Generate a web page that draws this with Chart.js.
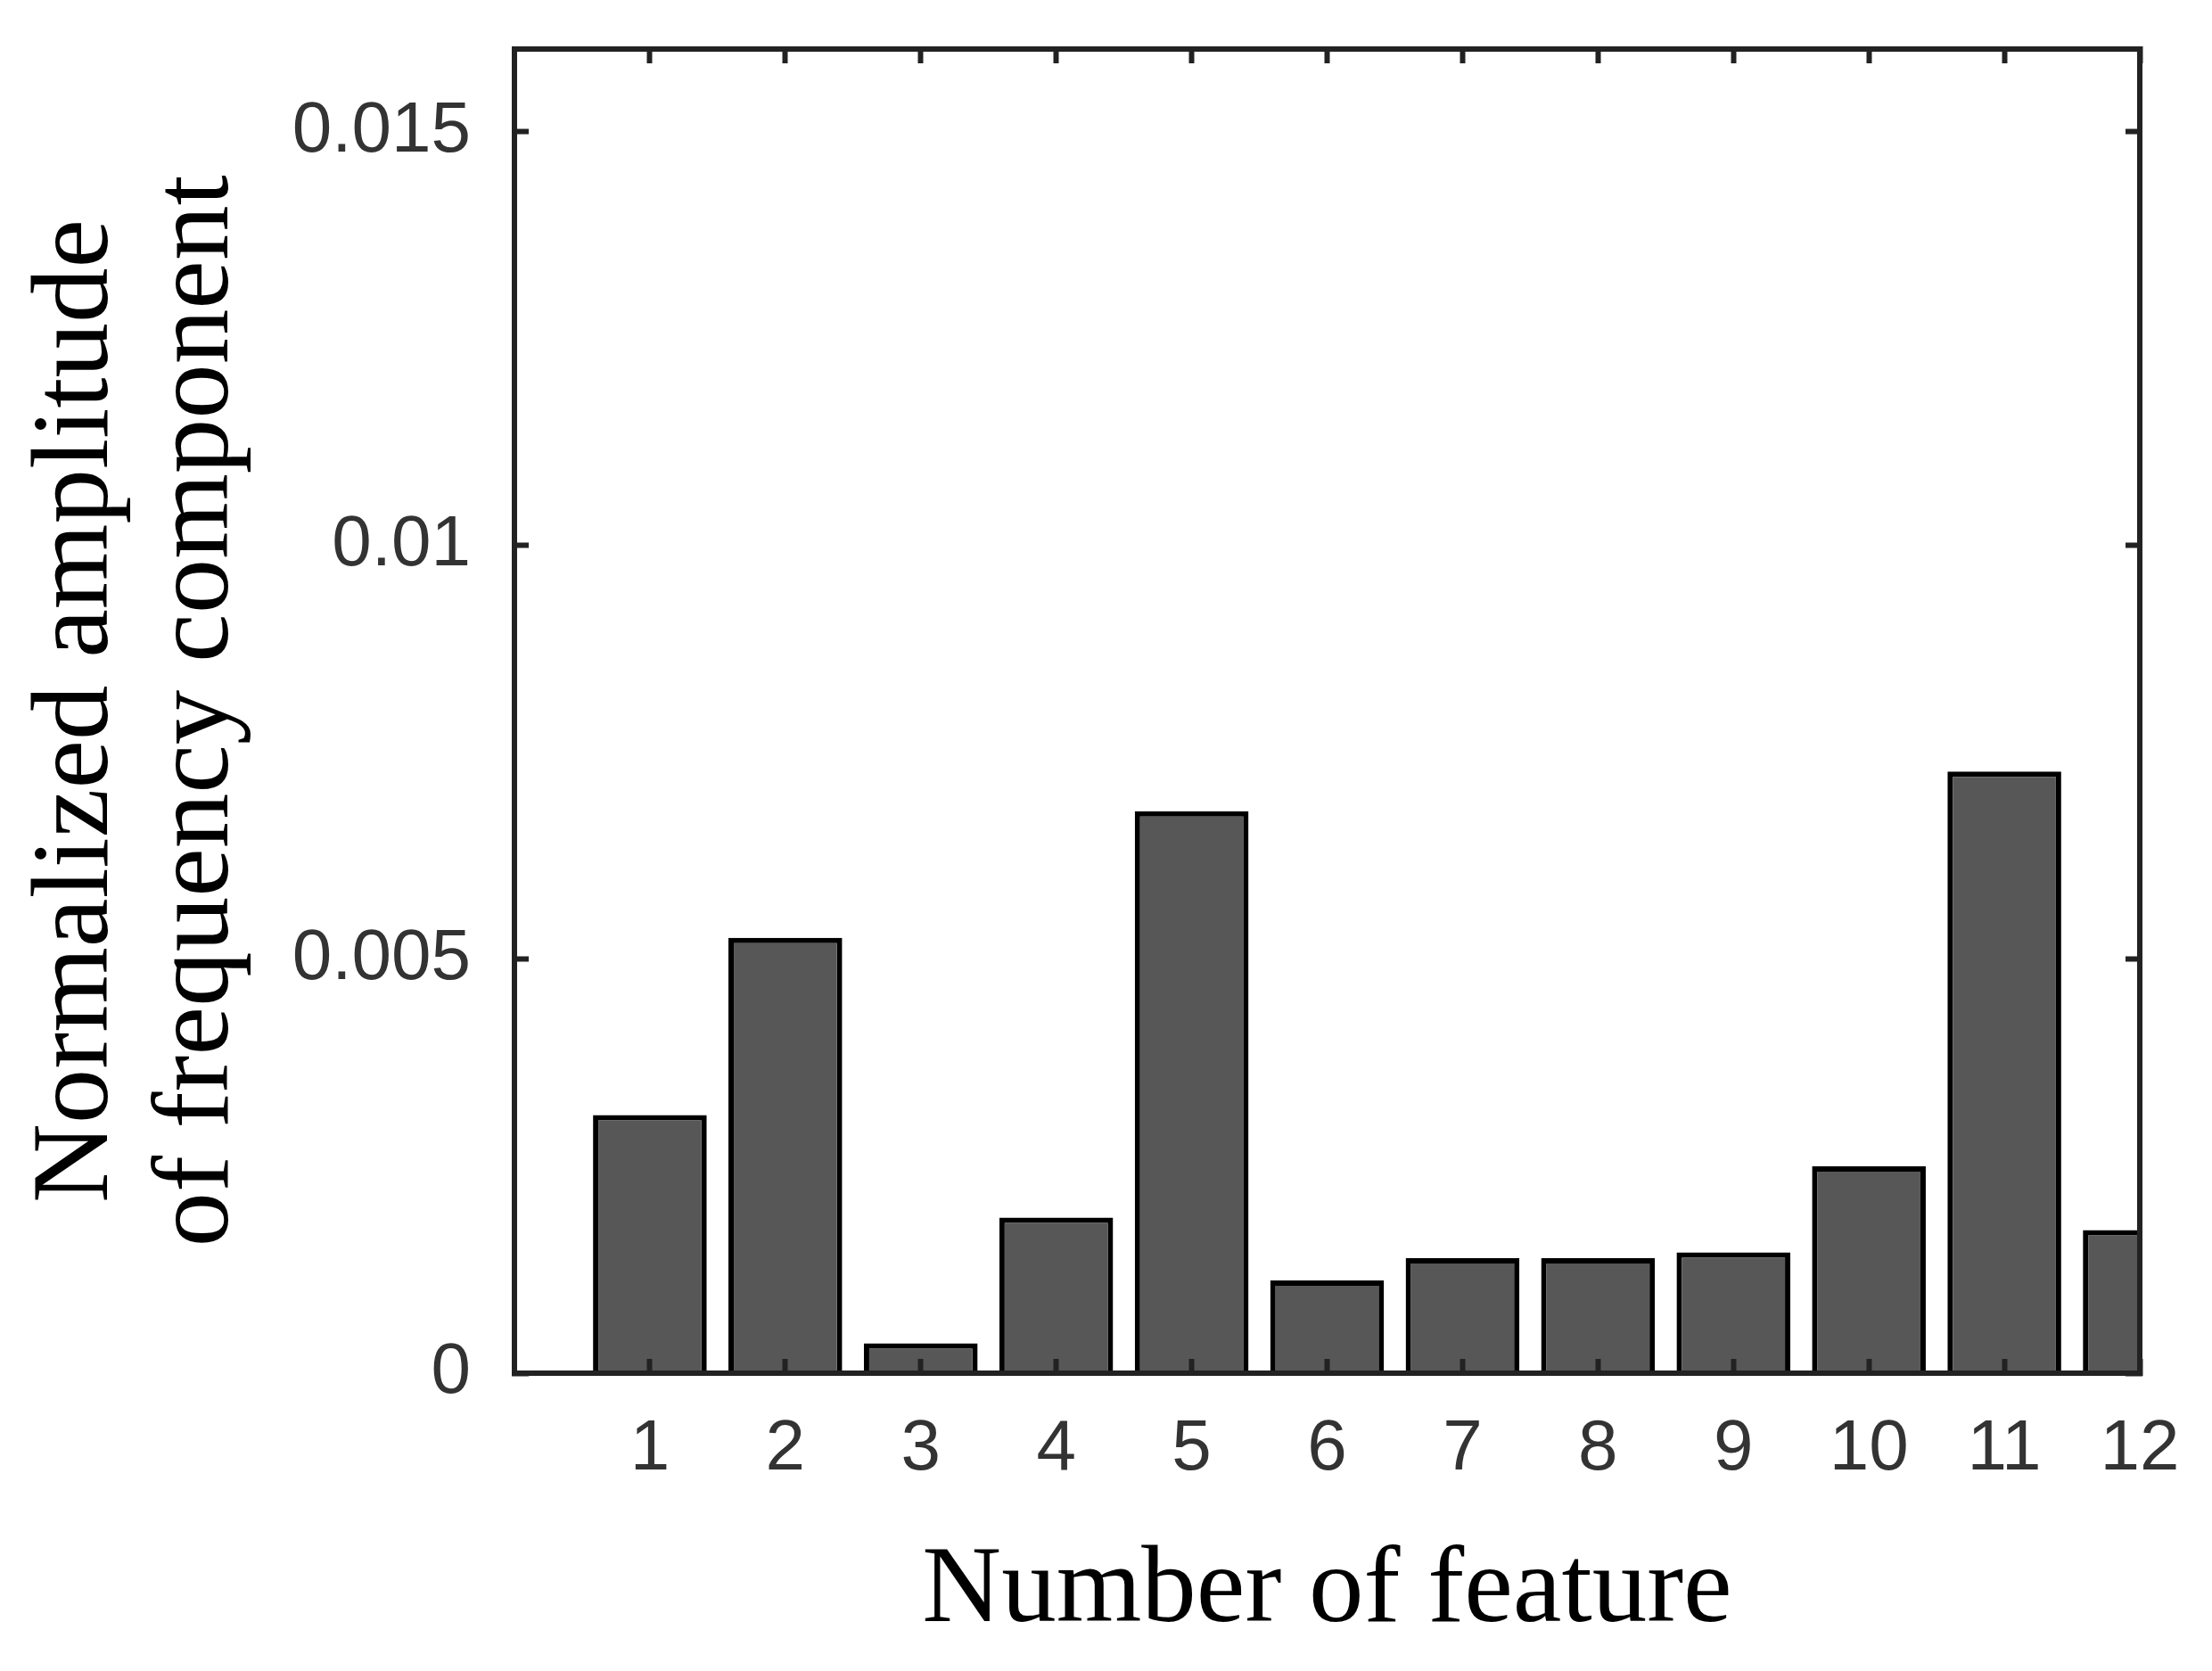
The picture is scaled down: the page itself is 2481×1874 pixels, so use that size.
<!DOCTYPE html>
<html lang="en">
<head>
<meta charset="utf-8">
<title>Normalized amplitude of frequency component</title>
<script src="https://cdn.jsdelivr.net/npm/chart.js@4.4.1/dist/chart.umd.min.js"></script>
<style>
  html, body { margin: 0; padding: 0; background: #fff; }
  #wrap { width: 2481px; height: 1874px; }
</style>
</head>
<body>
<div id="wrap"><canvas id="chart" width="2481" height="1874"></canvas></div>
<script>
// feature number on x, normalized amplitude on y
var features = [1, 2, 3, 4, 5, 6, 7, 8, 9, 10, 11, 12];
var amplitudes = [0.00312, 0.00526, 0.00036, 0.00188, 0.00679, 0.00112,
                  0.00139, 0.00139, 0.00146, 0.00250, 0.00727, 0.00173];
var xTickLabels = ['1', '2', '3', '4', '5', '6', '7', '8', '9', '10', '11', '12'];
var yTicks = [0, 0.005, 0.01, 0.015];
var yTickLabels = ['0', '0.005', '0.01', '0.015'];
var xTitle = 'Number of feature';
var yTitle = ['Normalized amplitude', 'of frequency component'];

var frameColor = '#222';
var tickFont = { family: 'Liberation Sans', size: 80 };
var titleFamily = 'Liberation Serif';
var titleSize = 123;

function setTicks(values) {
  return function (scale) {
    scale.ticks = values.map(function (v) { return { value: v }; });
  };
}

// fixed box size, and no extra room asked for half labels at the ends
function fixBox(prop, size) {
  return function (s) {
    s[prop] = size;
    s.paddingTop = 0; s.paddingBottom = 0;
    s.paddingLeft = 0; s.paddingRight = 0;
  };
}

// inward tick marks, drawn on top of the bars like the frame
function grid() {
  return { drawOnChartArea: false, drawTicks: true, tickLength: -16, tickWidth: 6, tickColor: frameColor, z: 1, offset: false };
}
function border() {
  return { display: true, color: frameColor, width: 6, z: 1 };
}

var ctx = document.getElementById('chart').getContext('2d');
var chart = new Chart(ctx, {
  type: 'bar',
  data: {
    datasets: [{
      data: features.map(function (f, i) { return { x: f, y: amplitudes[i] }; }),
      backgroundColor: '#575757',
      borderColor: '#000',
      borderWidth: 6,
      borderSkipped: 'start',
      barPercentage: 0.84,
      categoryPercentage: 1,
      clip: 0
    }]
  },
  options: {
    responsive: false,
    animation: false,
    layout: { padding: 0 },
    plugins: { legend: { display: false }, tooltip: { enabled: false } },
    scales: {
      x: {
        type: 'linear', position: 'bottom', min: 0, max: 12, offset: false,
        afterBuildTicks: setTicks(features),
        afterFit: fixBox('height', 334),
        grid: grid(), border: border(),
        ticks: {
          font: tickFont, color: '#333', padding: 54, maxRotation: 0, autoSkip: false,
          callback: function (v) { return xTickLabels[features.indexOf(v)]; }
        },
        title: {
          display: true, text: xTitle, color: '#000',
          font: { family: titleFamily, size: titleSize, lineHeight: 1.2 },
          padding: { top: 0, bottom: 14 }
        }
      },
      y: {
        type: 'linear', position: 'left', min: 0, max: 0.016,
        afterBuildTicks: setTicks(yTicks),
        afterFit: fixBox('width', 577),
        grid: grid(), border: border(),
        ticks: {
          font: tickFont, color: '#333', padding: 65,
          callback: function (v) { return yTickLabels[yTicks.indexOf(v)]; }
        },
        title: {
          display: true, text: yTitle, color: '#000',
          font: { family: titleFamily, size: titleSize, lineHeight: 1.1 },
          padding: { top: 20, bottom: 0 }
        }
      },
      x2: {
        type: 'linear', position: 'top', min: 0, max: 12, offset: false,
        afterBuildTicks: setTicks(features),
        afterFit: fixBox('height', 55),
        grid: grid(), border: border(),
        ticks: { display: false }
      },
      y2: {
        type: 'linear', position: 'right', min: 0, max: 0.016,
        afterBuildTicks: setTicks(yTicks),
        afterFit: fixBox('width', 81),
        grid: grid(), border: border(),
        ticks: { display: false }
      }
    }
  }
});
</script>
</body>
</html>
